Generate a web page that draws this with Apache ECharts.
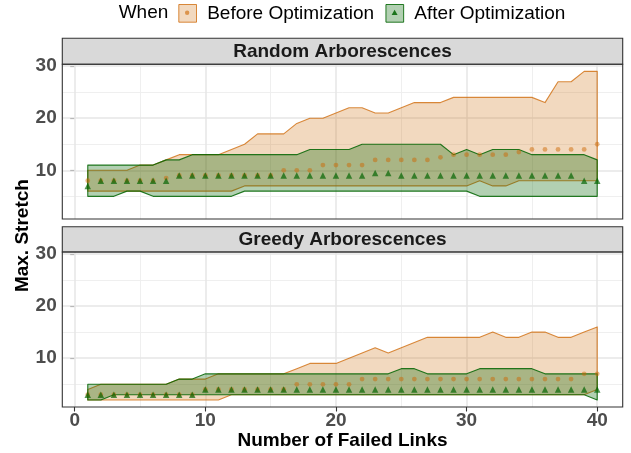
<!DOCTYPE html>
<html><head><meta charset="utf-8">
<script src="https://cdn.jsdelivr.net/npm/echarts@6/dist/echarts.min.js"></script>
<style>html,body{margin:0;padding:0;background:#fff}#c{width:631px;height:453px}</style>
</head><body><div id="c"></div>
<script>
// ---------------- data ----------------
const failedLinks = [1,2,3,4,5,6,7,8,9,10,11,12,13,14,15,16,17,18,19,20,21,22,23,24,25,26,27,28,29,30,31,32,33,34,35,36,37,38,39,40];

// Random Arborescences
const randomBeforeLow  = [6,6,6,6,6,6,6,6,6,6,6,6,7,7,7,7,7,7,7,7,7,7,7,7,7,7,7,7,7,7,8,7,7,8,8,8,8,8,8,8];
const randomBeforeMid  = [8,8,8,8,8,8,8.5,9,9,9,9,9,9,9,9,10,10,10,11,11,11,11,12,12,12,12,12,12.5,13,13,13,13,13,13.5,14,14,14,14,14,15];
const randomBeforeHigh = [10,10,10,10,11,11,12,13,13,13,13,14,15,17,17,17,19,20,20,21,22,22,21,21,22,23,23,23,24,24,24,24,24,24,24,23,27,27,29,29];
const randomAfterLow   = [5,5,5,6,6,5,5,5,5,5,5,5,6,6,6,6,6,6,6,6,6,6,6,6,6,6,6,6,6,6,5,5,5,5,5,5,5,5,5,5];
const randomAfterMid   = [7,8,8,8,8,8,8,9,9,9,9,9,9,9,9,9,9,9,9,9,9,9,9.5,9.5,9,9,9,9,9,9,9,9,9,9,9,9,9,9,8,8];
const randomAfterHigh  = [11,11,11,11,11,11,12,12,13,13,13,13,13,13,13,13,13,14,14,14,14,15,15,15,15,15,15,15,13,14,13,14,14,14,13,13,13,13,13,12];

// Greedy Arborescences
const greedyBeforeLow  = [2,2,2,2,2,2,2,2,2,2,2,3,3,3,3,3,3,3,3,3,3,3,3,3,3,3,3,3,3,3,3,3,3,3,3,3,3,3,3,4];
const greedyBeforeMid  = [3,3,3,3,3,3,3,3,3,4,4,4,4,4,4,4,5,5,5,5,5,6,6,6,6,6,6,6,6,6,6,6,6,6,6,6,6,6,7,7];
const greedyBeforeHigh = [4,5,5,5,5,5,5,6,6,6,7,7,7,7,7,7,8,9,9,9,10,11,12,11,12,13,14,14,14,14,14,15,14,14,15,15,14,14,15,16];
const greedyAfterLow   = [2,2,3,3,3,3,3,3,3,3,3,3,3,3,3,3,3,3,3,3,3,3,3,3,3,3,3,3,3,3,3,3,3,3,3,3,3,3,3,2];
const greedyAfterMid   = [3,3,3,3,3,3,3,3,3,4,4,4,4,4,4,4,4,4,4,4,4,4,4,4,4,4,4,4,4,4,4,4,4,4,4,4,4,4,4,4];
const greedyAfterHigh  = [5,5,5,5,5,5,5,6,6,7,7,7,7,7,7,7,7,7,7,7,7,7,7,7,8,8,7,7,7,7,8,8,8,8,8,7,7,7,7,7];

const xTickValues = [0,10,20,30,40];
const xMinorValues = [5,15,25,35];
const yTickValues = [10,20,30];
const yMinorValues = [5,15,25];
const panelTitles = ['Random Arborescences','Greedy Arborescences'];
const groupNames = ['Before Optimization','After Optimization'];
const legendTitle = 'When';
const xTitle = 'Number of Failed Links';
const yTitle = 'Max. Stretch';

// ---------------- style ----------------
const FONT = 'Liberation Sans, Arial, Helvetica, sans-serif';
const FS = 19;
const ORANGE_FILL = 'rgba(205,102,0,0.25)';
const ORANGE_LINE = 'rgba(205,102,0,0.75)';
const ORANGE_PT = 'rgba(205,102,0,0.6)';
const GREEN_FILL = 'rgba(0,100,0,0.3)';
const GREEN_LINE = 'rgba(0,100,0,0.85)';
const GREEN_PT = 'rgba(0,100,0,0.85)';

const L = 62.3, W = 560.4;
const panels = [{top: 64.3, h: 154.7, stripTop: 38.3}, {top: 252, h: 155, stripTop: 226.7}];
const X_MIN = -0.95, X_MAX = 41.95, Y_MIN = 0.65, Y_MAX = 30.35;

const chart = echarts.init(document.getElementById('c'), null, {renderer: 'canvas'});

function ribbon(name, g, lo, hi, fill, stroke, withGrid) {
  const s = {
    type: 'custom', name, xAxisIndex: g, yAxisIndex: g, coordinateSystem: 'cartesian2d',
    data: failedLinks.map((x, i) => [x, lo[i], hi[i]]),
    encode: {x: 0, y: [1, 2]},
    z: 2,
    renderItem(params, api) {
      if (params.dataIndex !== 0) return null;
      const pts = [];
      for (let i = 0; i < failedLinks.length; i++) pts.push(api.coord([failedLinks[i], hi[i]]));
      for (let i = failedLinks.length - 1; i >= 0; i--) pts.push(api.coord([failedLinks[i], lo[i]]));
      return {type: 'polygon', shape: {points: pts}, style: {fill, stroke, lineWidth: 1.1, lineJoin: 'round'}};
    }
  };
  if (withGrid) {
    const major = {color: '#E6E6E6', width: 1.5, type: 'solid'};
    const minor = {color: '#EDEDED', width: 0.9, type: 'solid'};
    s.markLine = {
      silent: true, symbol: ['none', 'none'], z: 1, animation: false, label: {show: false},
      emphasis: {disabled: true},
      data: [
        ...yMinorValues.map(v => ({yAxis: v, lineStyle: minor})),
        ...xMinorValues.map(v => ({xAxis: v, lineStyle: minor})),
        ...yTickValues.map(v => ({yAxis: v, lineStyle: major})),
        ...xTickValues.map(v => ({xAxis: v, lineStyle: major}))
      ]
    };
  }
  return s;
}
function points(name, g, mid, symbol, size, color) {
  return {
    type: 'scatter', name, xAxisIndex: g, yAxisIndex: g, symbol, symbolSize: size,
    data: failedLinks.map((x, i) => [x, mid[i]]),
    itemStyle: {color}, z: 3, silent: true
  };
}

const grids = panels.map(p => ({left: L, top: p.top, width: W, height: p.h, show: false, containLabel: false}));
const xAxes = panels.map((p, g) => ({
  type: 'value', gridIndex: g, min: X_MIN, max: X_MAX, show: g === 1,
  axisLine: {show: false}, splitLine: {show: false},
  axisTick: {show: true, length: 4.5, customValues: xTickValues, lineStyle: {color: '#333', width: 1.1}},
  axisLabel: {show: true, customValues: xTickValues, margin: 4.5, color: '#4D4D4D', fontWeight: 'bold', fontSize: FS, fontFamily: FONT}
}));
const yAxes = panels.map((p, g) => ({
  type: 'value', gridIndex: g, min: Y_MIN, max: Y_MAX,
  axisLine: {show: false}, splitLine: {show: false},
  axisTick: {show: true, length: 4.5, customValues: yTickValues, lineStyle: {color: '#333', width: 1.1}},
  axisLabel: {show: true, customValues: yTickValues, margin: 5.6, color: '#4D4D4D', fontWeight: 'bold', fontSize: FS, fontFamily: FONT}
}));

const series = [
  ribbon(groupNames[0], 0, randomBeforeLow, randomBeforeHigh, ORANGE_FILL, ORANGE_LINE, true),
  ribbon(groupNames[1], 0, randomAfterLow, randomAfterHigh, GREEN_FILL, GREEN_LINE, false),
  ribbon(groupNames[0], 1, greedyBeforeLow, greedyBeforeHigh, ORANGE_FILL, ORANGE_LINE, true),
  ribbon(groupNames[1], 1, greedyAfterLow, greedyAfterHigh, GREEN_FILL, GREEN_LINE, false),
  points(groupNames[0], 0, randomBeforeMid, 'circle', 4.8, ORANGE_PT),
  points(groupNames[0], 1, greedyBeforeMid, 'circle', 4.8, ORANGE_PT),
  points(groupNames[1], 0, randomAfterMid, 'triangle', 6.5, GREEN_PT),
  points(groupNames[1], 1, greedyAfterMid, 'triangle', 6.5, GREEN_PT)
];

const graphics = [];
panels.forEach((p, g) => {
  graphics.push({type: 'rect', z: 50, shape: {x: L, y: p.stripTop, width: W, height: p.top - p.stripTop},
    style: {fill: '#D9D9D9', stroke: '#333', lineWidth: 1.1}});
  graphics.push({type: 'text', z: 51, x: L + W / 2, y: (p.stripTop + p.top) / 2,
    style: {text: panelTitles[g], fill: '#1A1A1A', font: 'bold ' + FS + 'px ' + FONT, textAlign: 'center', textVerticalAlign: 'middle'}});
  graphics.push({type: 'rect', z: 50, shape: {x: L, y: p.top, width: W, height: p.h},
    style: {fill: 'none', stroke: '#333', lineWidth: 1.1}});
});
graphics.push({type: 'text', z: 51, x: L + W / 2, y: 440.7,
  style: {text: xTitle, fill: '#000', font: 'bold ' + FS + 'px ' + FONT, textAlign: 'center', textVerticalAlign: 'middle'}});
graphics.push({type: 'text', z: 51, x: 22.5, y: 235.6, rotation: Math.PI / 2,
  style: {text: yTitle, fill: '#000', font: 'bold ' + FS + 'px ' + FONT, textAlign: 'center', textVerticalAlign: 'middle'}});
graphics.push({type: 'text', z: 51, x: 168.3, y: 12.7,
  style: {text: legendTitle, fill: '#000', font: FS + 'px ' + FONT, textAlign: 'right', textVerticalAlign: 'middle'}});
// glyphs inside legend keys
graphics.push({type: 'circle', z: 60, shape: {cx: 187.15, cy: 12.7, r: 2.2}, style: {fill: ORANGE_PT}});
graphics.push({type: 'polygon', z: 60, shape: {points: [[394.6, 9.8], [397.6, 15.0], [391.6, 15.0]]}, style: {fill: GREEN_PT}});

chart.setOption({
  animation: false,
  backgroundColor: '#fff',
  legend: {
    left: 178.3, top: 3.85, padding: 0, itemWidth: 17.7, itemHeight: 17.7, itemGap: 11.4,
    selectedMode: false, orient: 'horizontal',
    textStyle: {fontSize: FS, fontFamily: FONT, color: '#000', padding: [0, 0, 0, 5.7], lineHeight: 17.7},
    data: [
      {name: groupNames[0], icon: 'rect', itemStyle: {color: ORANGE_FILL, borderColor: ORANGE_LINE, borderWidth: 1}},
      {name: groupNames[1], icon: 'rect', itemStyle: {color: GREEN_FILL, borderColor: GREEN_LINE, borderWidth: 1}}
    ]
  },
  grid: grids, xAxis: xAxes, yAxis: yAxes, series, graphic: graphics
});
</script></body></html>
